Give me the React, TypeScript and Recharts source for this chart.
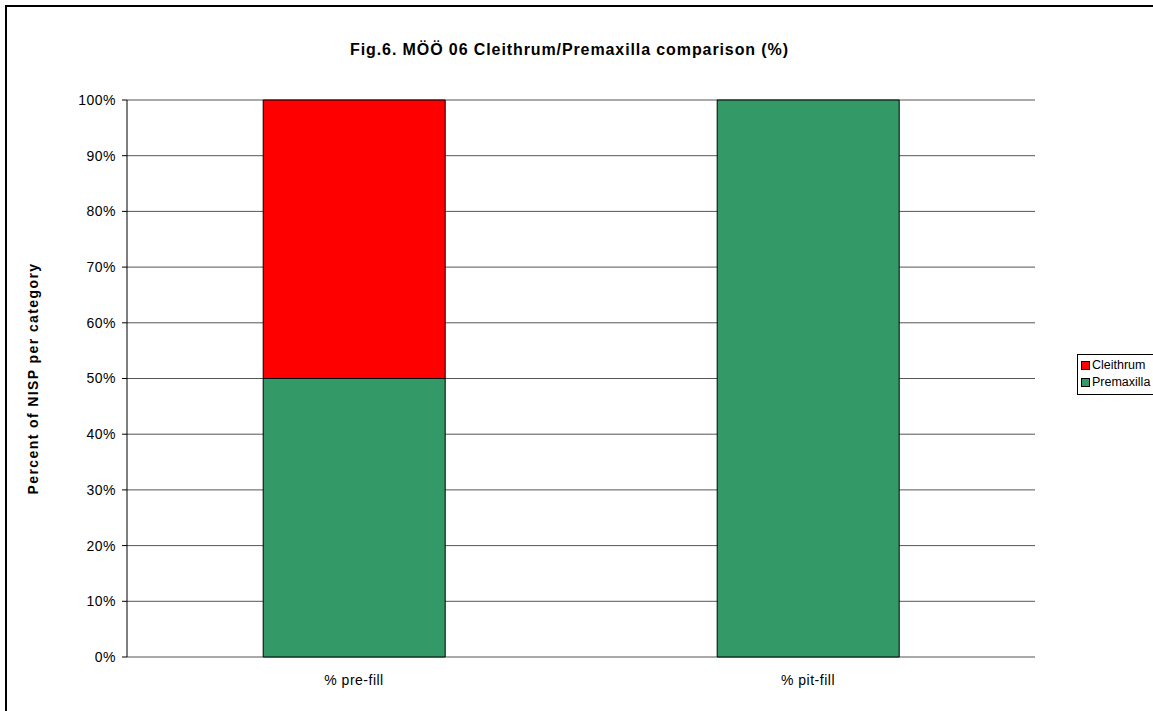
import React from "react";
import { ComposedChart, Bar, XAxis, YAxis, CartesianGrid } from "recharts";

const categories = ["% pre-fill", "% pit-fill"];
const premaxilla = [50, 100];
const cleithrum = [50, 0];
const yTicks = [0, 10, 20, 30, 40, 50, 60, 70, 80, 90, 100];
const seriesNames = ["Cleithrum", "Premaxilla"];
const seriesColors = ["#FF0000", "#339966"];

const data = categories.map((c, i) => ({
  name: c,
  idx: i + 0.5,
  Premaxilla: premaxilla[i],
  Cleithrum: cleithrum[i],
}));

const FONT = "'Liberation Sans', Arial, sans-serif";

const LegendBox = () => (
  <div
    style={{
      position: "absolute",
      left: 1077,
      top: 354,
      width: 72,
      height: 37,
      border: "1px solid #000",
      background: "#fff",
      padding: "2px 0 0 3px",
      fontFamily: FONT,
      fontSize: 12.5,
      lineHeight: "17px",
      color: "#000",
    }}
  >
    {seriesNames.map((n, i) => (
      <div key={n} style={{ display: "flex", alignItems: "center", whiteSpace: "nowrap" }}>
        <span
          style={{
            display: "inline-block",
            flexShrink: 0,
            width: 7,
            height: 7,
            background: seriesColors[i],
            border: "1px solid #000",
            marginRight: 2,
          }}
        />
        <span>{n}</span>
      </div>
    ))}
  </div>
);

export default function App() {
  return (
    <div style={{ position: "absolute", left: 0, top: 0, width: 1153, height: 711, background: "#fff", overflow: "hidden" }}>
      <div
        style={{
          position: "absolute",
          left: 5,
          top: 5,
          width: 1170,
          height: 730,
          border: "2px solid #000",
        }}
      />
      <div
        style={{
          position: "absolute",
          left: 0,
          top: 41,
          width: 1139,
          textAlign: "center",
          fontFamily: FONT,
          fontWeight: "bold",
          fontSize: 16,
          letterSpacing: 0.9,
          color: "#000",
        }}
      >
        Fig.6. MÖÖ 06 Cleithrum/Premaxilla comparison (%)
      </div>
      <div style={{ position: "absolute", left: 0, top: 0 }}>
        <ComposedChart
          width={1153}
          height={711}
          data={data}
          barCategoryGap="30%"
          margin={{ top: 100, right: 118, bottom: 24, left: 0 }}
        >
          <CartesianGrid vertical={false} stroke="#555" />
          <XAxis
            dataKey="name"
            xAxisId="cat"
            height={30}
            axisLine={false}
            tickLine={false}
            tick={{ fill: "#000", fontSize: 14, fontFamily: FONT, letterSpacing: 0.5 }}
            tickMargin={12}
          />
          <XAxis
            xAxisId="num"
            type="number"
            dataKey="idx"
            domain={[0, 2]}
            ticks={[0, 1, 2]}
            tickFormatter={() => ""}
            axisLine={{ stroke: "#777", strokeWidth: 2 }}
            tickLine={{ stroke: "#777", strokeWidth: 2 }}
            tickSize={6}
            height={0}
          />
          <YAxis
            width={127}
            domain={[0, 100]}
            ticks={yTicks}
            tickFormatter={(v) => `${v}%`}
            axisLine={{ stroke: "#000" }}
            tickLine={{ stroke: "#000" }}
            tickSize={5}
            tickMargin={6}
            interval={0}
            tick={{ fill: "#000", fontSize: 14, fontFamily: FONT, letterSpacing: 0.5 }}
            label={{
              value: "Percent of NISP per category",
              angle: -90,
              position: "insideLeft",
              offset: 33,
              style: { textAnchor: "middle", fontWeight: "bold", fontSize: 14, letterSpacing: 1.4, fontFamily: FONT, fill: "#000" },
            }}
          />
          <Bar xAxisId="cat" dataKey="Premaxilla" stackId="s" fill="#339966" stroke="#000" strokeWidth={1} isAnimationActive={false} />
          <Bar xAxisId="cat" dataKey="Cleithrum" stackId="s" fill="#FF0000" stroke="#000" strokeWidth={1} isAnimationActive={false} />
        </ComposedChart>
      </div>
      <LegendBox />
    </div>
  );
}
